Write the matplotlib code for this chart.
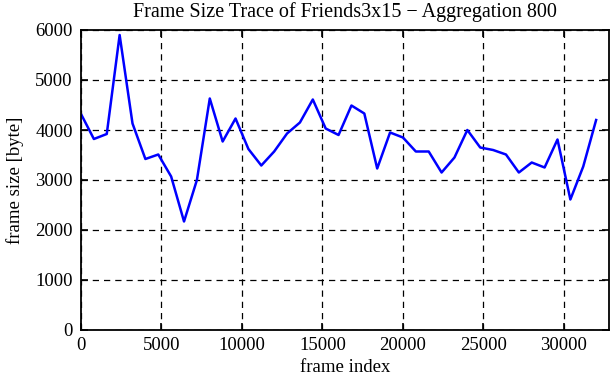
import matplotlib
matplotlib.use('Agg')
import matplotlib.pyplot as plt
import numpy as np

# frame size trace, aggregation 800 frames per point
frame_index = np.arange(0, 32001, 800)
frame_size = [4320, 3820, 3920, 5900, 4130, 3420, 3510, 3070, 2170, 3000,
              4630, 3770, 4230, 3620, 3290, 3570, 3930, 4150, 4610, 4030,
              3900, 4490, 4330, 3230, 3950, 3850, 3570, 3570, 3150, 3450,
              4000, 3650, 3600, 3510, 3150, 3350, 3250, 3810, 2610, 3270,
              4200]

x_ticks = [0, 5000, 10000, 15000, 20000, 25000, 30000]
y_ticks = [0, 1000, 2000, 3000, 4000, 5000, 6000]

plt.rcParams['font.family'] = ['Liberation Serif', 'DejaVu Serif']

fig = plt.figure(figsize=(6.11, 3.8), dpi=100)
ax = fig.add_axes([81 / 611, 50 / 380, 528 / 611, 300 / 380])

ax.plot(frame_index, frame_size, color='#0000ff', linewidth=1.8)

ax.set_xlim(0, 32800)
ax.set_ylim(0, 6000)
ax.set_xticks(x_ticks)
ax.set_yticks(y_ticks)
ax.grid(True, color='black', linestyle=(0, (5, 4)), linewidth=0.9)
ax.tick_params(direction='in', top=True, right=True, length=5, width=1.2,
               labelsize=13.5, pad=6)
ax.tick_params(axis='x', pad=5)
for s in ax.spines.values():
    s.set_linewidth(1.3)

ax.set_xlabel('frame index', fontsize=13.5, labelpad=4)
ax.set_ylabel('frame size [byte]', fontsize=13.5, labelpad=8)
ax.set_title('Frame Size Trace of Friends3x15 \u2212 Aggregation 800', fontsize=14.5, pad=9)

fig.savefig('out.png', dpi=100)
